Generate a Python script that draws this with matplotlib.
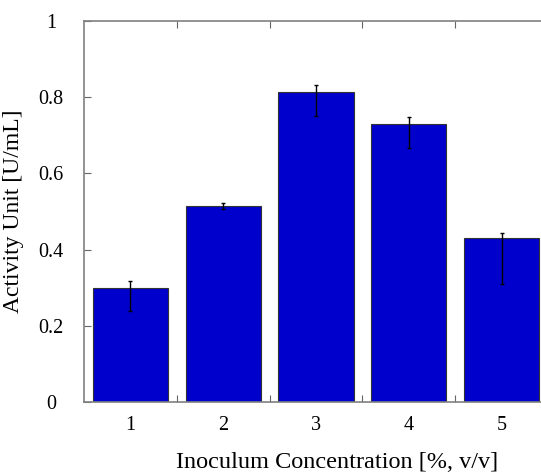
import matplotlib.pyplot as plt
import numpy as np

concentration = [1, 2, 3, 4, 5]
activity = [0.30, 0.515, 0.814, 0.730, 0.430]
err_low = [0.062, 0.008, 0.063, 0.064, 0.121]
err_high = [0.018, 0.007, 0.018, 0.017, 0.014]

plt.rcParams['font.family'] = ['Liberation Serif', 'DejaVu Serif']

fig = plt.figure(figsize=(5.41, 4.72), dpi=100)
ax = fig.add_axes([0.155, 0.148, 0.858, 0.8075])

ax.bar(concentration, activity, width=0.81, color='#0000cc', edgecolor='#333333',
       linewidth=0.8, yerr=[err_low, err_high], error_kw=dict(ecolor='black', elinewidth=1, capsize=1.5, capthick=1))

ax.set_xlim(0.5, 5.5)
ax.set_ylim(0, 1)

ax.set_xticks([1.5, 2.5, 3.5, 4.5])
ax.set_xticklabels([])
ax.set_xticks(concentration, minor=True)
ax.set_xticklabels([str(c) for c in concentration], minor=True)
ax.tick_params(axis='x', which='minor', length=0, pad=10, labelsize=14.5)
ax.tick_params(axis='x', which='major', direction='in', length=5, top=True, color='#666666')

ax.set_yticks([0, 0.2, 0.4, 0.6, 0.8, 1])
ax.set_yticklabels(['0', '0.2', '0.4', '0.6', '0.8', '1'])
ax.tick_params(axis='y', direction='in', length=5, right=True, color='#666666', labelsize=14.5, pad=12)
for lab in ax.get_yticklabels():
    lab.set_horizontalalignment('center')
    lab.set_x(-0.035)

for s in ax.spines.values():
    s.set_color('#808080')
    s.set_linewidth(1.2)

ax.set_ylabel('Activity Unit [U/mL]', fontsize=17, labelpad=10)
ax.set_xlabel('Inoculum Concentration [%, v/v]', fontsize=17.5, labelpad=12, x=0.545)

fig.savefig('out.png', dpi=100)
